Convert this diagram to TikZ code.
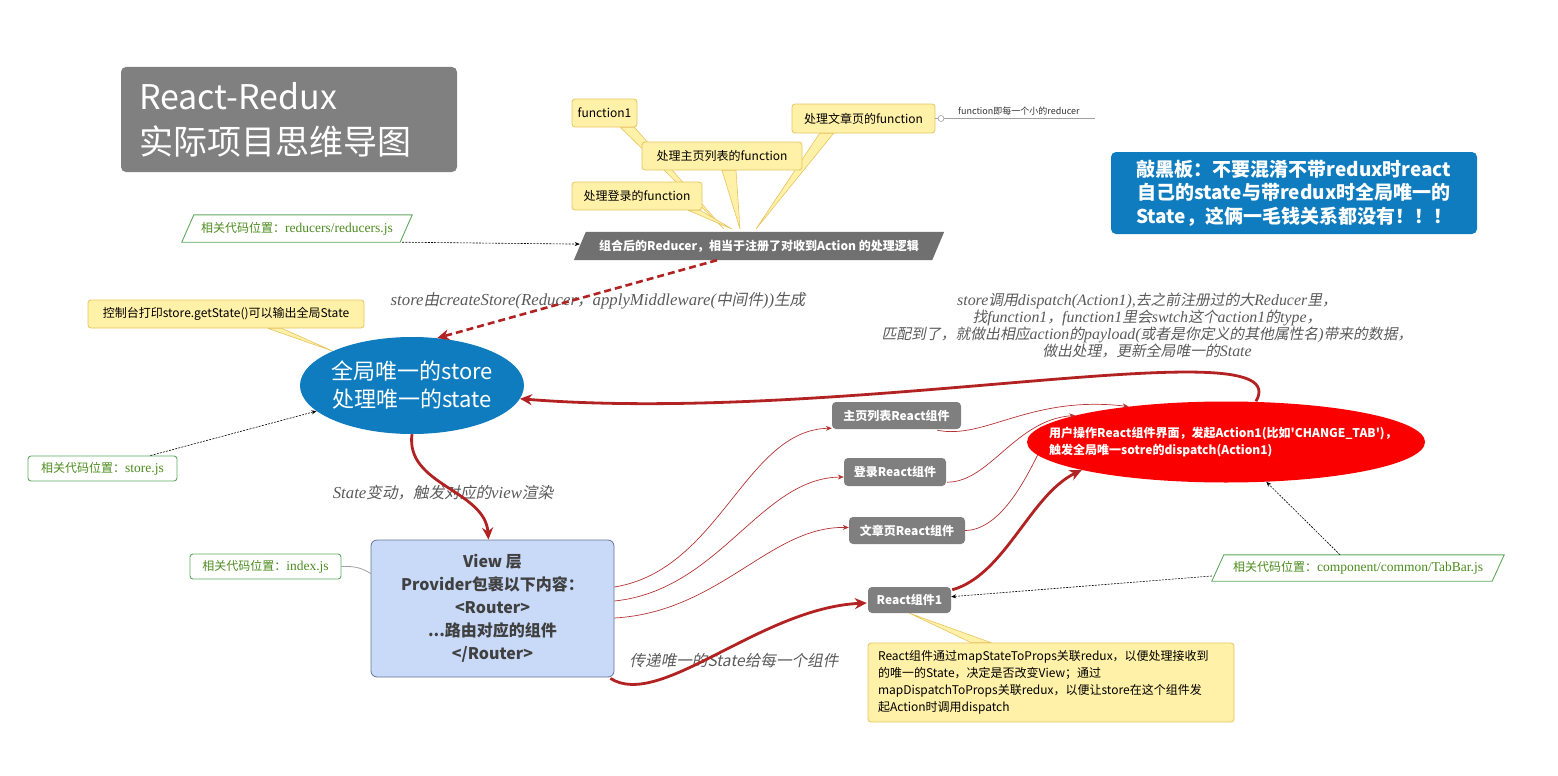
\documentclass[tikz,border=0pt]{standalone}
\usepackage{fontspec}
\setmainfont{Noto Sans CJK SC}
\newfontfamily\cjit[FakeSlant=0.2]{Noto Sans CJK SC}
\newfontfamily\latser{Liberation Serif}
\usetikzlibrary{arrows.meta,calc,shapes.geometric,backgrounds}
\definecolor{titlegray}{RGB}{128,128,128}
\definecolor{yfill}{RGB}{255,241,168}
\definecolor{ybord}{RGB}{232,196,96}
\definecolor{gbord}{RGB}{96,170,96}
\definecolor{gtext}{RGB}{76,140,30}
\definecolor{sblue}{RGB}{14,124,190}
\definecolor{compgray}{RGB}{127,127,127}
\definecolor{redgray}{RGB}{112,112,112}
\definecolor{actred}{RGB}{250,0,0}
\definecolor{dred}{RGB}{178,34,34}
\definecolor{tred}{RGB}{180,50,50}
\definecolor{viewfill}{RGB}{201,218,248}
\definecolor{viewbord}{RGB}{100,115,150}
\definecolor{viewtext}{RGB}{64,64,64}
\definecolor{itgray}{RGB}{90,90,90}
\definecolor{linegray}{RGB}{160,160,160}
\newcommand\itc[1]{{\cjit\fontsize{15.6}{18}\selectfont #1}}
\newcommand\itl[1]{{\latser\itshape\fontsize{16.8}{18}\selectfont #1}}
\newcommand\itcs[1]{{\cjit\fontsize{14.8}{17}\selectfont #1}}
\newcommand\itls[1]{{\latser\itshape\fontsize{15.9}{17}\selectfont #1}}
\newcommand\pth[1]{{\latser\fontsize{13.5}{14}\selectfont #1}}
\newcommand\sq{{\XeTeXglyph\XeTeXcharglyph"27}}
\begin{document}
\begin{tikzpicture}[x=1pt,y=-1pt,
 ybox/.style={draw=ybord, fill=yfill, rounded corners=3pt, line width=0.8pt, inner sep=0pt, font=\fontsize{12}{14}\selectfont, text=black},
 tail/.style={draw=ybord, fill=yfill, line width=0.6pt, line join=round},
 glab/.style={text=gtext, inner sep=0pt, font=\fontsize{12}{14}\selectfont},
 gbox/.style={glab, draw=gbord, fill=white, rounded corners=3pt, line width=0.9pt},
 gpar/.style={draw=gbord, fill=white, line width=0.9pt},
 comp/.style={fill=compgray, rounded corners=4pt, text=white, inner sep=0pt, font=\bfseries\fontsize{12}{14}\selectfont},
 dotarr/.style={black, line width=0.6pt, dash pattern=on 2pt off 1.2pt, -{Stealth[length=5pt,width=4pt]}},
 bigrel/.style={dred, line width=2.8pt, -{Stealth[length=12pt,width=11pt]}},
 thinrel/.style={tred, line width=0.7pt, -{Stealth[length=6pt,width=5pt]}},
 itlab/.style={text=itgray, inner sep=0pt, align=center, font=\fontsize{14}{17}\selectfont},
]
\useasboundingbox (0,0) rectangle (1558,776);

% title
\node[fill=titlegray, rounded corners=5pt, minimum width=336, minimum height=105, text width=300, inner xsep=18, inner ysep=0, align=left, text=white, font=\fontsize{34}{45}\selectfont] (title) at (289,119.5) {React-Redux\\实际项目思维导图};

% reducer callouts
\node[ybox, minimum width=65, minimum height=28] (f1) at (604.5,113) {function1};
\node[ybox, minimum width=160, minimum height=28] (fmain) at (722,156) {处理主页列表的function};
\node[ybox, minimum width=130, minimum height=28] (flogin) at (637,196) {处理登录的function};
\node[ybox, minimum width=143, minimum height=29] (fart) at (863.5,118.5) {处理文章页的function};

\node[text=white, font=\bfseries\fontsize{12}{14}\selectfont, minimum width=358, minimum height=28, inner sep=0] (reducer) at (759,246) {组合后的Reducer，相当于注册了对收到Action 的处理逻辑};

\node[circle, draw=linegray, fill=white, minimum size=6, inner sep=0, line width=0.6] (knob) at (941,118.5) {};
\coordinate (fend) at (1095,118.5);
\node[font=\fontsize{9}{10}\selectfont, text=black!80, inner sep=0, anchor=south west] (fnote) at (958,115) {function即每一个小的reducer};
\draw[linegray, line width=0.8] (fart.east) -- (knob.west);
\draw[linegray, line width=0.8] (knob.east) -- (fend);

% green labels
\node[glab, minimum width=218, minimum height=27] (rlab) at (297,228.5) {相关代码位置：\pth{reducers/reducers.js}};
\node[gbox, minimum width=149, minimum height=25] (slab) at (102.5,468.5) {相关代码位置：\pth{store.js}};
\node[gbox, minimum width=151, minimum height=25] (ilab) at (265.5,566.5) {相关代码位置：\pth{index.js}};
\node[glab, minimum width=280, minimum height=26] (tlab) at (1358,568) {相关代码位置：\pth{component/common/TabBar.js}};

% store
\node[ybox, minimum width=276, minimum height=28] (cnote) at (226,314) {控制台打印store.getState()可以输出全局State};
\node[ellipse, fill=sblue, minimum width=224, minimum height=97, inner sep=0] (store) at (412,385.5) {};
\node[text=white, align=center, font=\fontsize{22}{28}\selectfont, inner sep=0] (storetxt) at (store.center) {全局唯一的store\\处理唯一的state};

% blackboard
\node[fill=sblue, rounded corners=5pt, minimum width=366, minimum height=82, inner sep=0, text=white, align=center, font=\bfseries\fontsize{19}{23.5}\selectfont] (board) at (1294,193) {敲黑板：不要混淆不带redux时react\\自己的state与带redux时全局唯一的\\State，这俩一毛钱关系都没有！！！};

% action ellipse
\node[ellipse, fill=actred, minimum width=398, minimum height=81, inner sep=0] (act) at (1226,442) {};
\node[text=white, align=left, font=\bfseries\fontsize{12}{17}\selectfont, inner sep=0] (acttxt) at (1223,442.5) {用户操作React组件界面，发起Action1(比如\sq CHANGE\_TAB\sq)，\\触发全局唯一sotre的dispatch(Action1)};

% components
\node[comp, minimum width=129, minimum height=27] (home) at (896.5,415.5) {主页列表React组件};
\node[comp, minimum width=102, minimum height=28] (login) at (895,472) {登录React组件};
\node[comp, minimum width=116, minimum height=27] (article) at (907,530.5) {文章页React组件};
\node[comp, minimum width=83, minimum height=26] (comp1) at (909.5,600) {React组件1};

% view
\node[fill=viewfill, draw=viewbord, line width=0.8pt, rounded corners=6pt, minimum width=243, minimum height=137, inner sep=0, align=center, text=viewtext, font=\bfseries\fontsize{16}{23}\selectfont] (view) at (492.5,608.5) {View 层\\Provider包裹以下内容：\\<Router>\\...路由对应的组件\\</Router>};

% comp1 note
\node[ybox, minimum height=79, text width=346, inner xsep=10, inner ysep=0, align=left, font=\fontsize{12}{17}\selectfont] (cnote2) at (1051,682.5) {React组件通过mapStateToProps关联redux，以便处理接收到\\的唯一的State，决定是否改变View；通过\\mapDispatchToProps关联redux，以便让store在这个组件发\\起Action时调用dispatch};

% italic labels
\node[itlab] (lcreate) at (598,301) {\itl{store}\itc{由}\itl{createStore(Reducer}\itc{，}\itl{applyMiddleware(}\itc{中间件}\itl{))}\itc{生成}};
\node[itlab] (ldispatch) at (1147,325.5) {\itls{store}\itcs{调用}\itls{dispatch(Action1),}\itcs{去之前注册过的大}\itls{Reducer}\itcs{里，}\\
\itcs{找}\itls{function1}\itcs{，}\itls{function1}\itcs{里会}\itls{swtch}\itcs{这个}\itls{action1}\itcs{的}\itls{type}\itcs{，}\\
\itcs{匹配到了，就做出相应}\itls{action}\itcs{的}\itls{payload(}\itcs{或者是你定义的其他属性名}\itls{)}\itcs{带来的数据，}\\
\itcs{做出处理，更新全局唯一的}\itls{State}};
\node[itlab] (lrender) at (443,493) {\itl{State}\itc{变动，触发对应的}\itl{view}\itc{渲染}};
\node[itlab] (lpass) at (734,661) {\itc{传递唯一的State给每一个组件}};

% background shapes
\begin{scope}[on background layer]
\fill[redgray] ([shift={(-6,0)}]reducer.south west) -- ([shift={(6,0)}]reducer.north west) -- ([shift={(6,0)}]reducer.north east) -- ([shift={(-6,0)}]reducer.south east) -- cycle;
\draw[gpar] ([shift={(-6,0)}]rlab.south west) -- ([shift={(6,0)}]rlab.north west) -- ([shift={(6,0)}]rlab.north east) -- ([shift={(-6,0)}]rlab.south east) -- cycle;
\draw[gpar] ([shift={(-6,0)}]tlab.south west) -- ([shift={(6,0)}]tlab.north west) -- ([shift={(6,0)}]tlab.north east) -- ([shift={(-6,0)}]tlab.south east) -- cycle;
\filldraw[tail] ([shift={(16,0)}]f1.south) -- (724,229) -- ([shift={(30,0)}]f1.south) -- cycle;
\filldraw[tail] ([shift={(0,0)}]fmain.south) -- (740,229) -- ([shift={(14,0)}]fmain.south) -- cycle;
\filldraw[tail] ([shift={(-14,0)}]flogin.south east) -- (732,229) -- ([shift={(-2,0)}]flogin.south east) -- cycle;
\filldraw[tail] ([shift={(-44,0)}]fart.south) -- (756,229) -- ([shift={(-30,0)}]fart.south) -- cycle;
\filldraw[tail] ([shift={(42,0)}]cnote.south) -- (store.north west) -- ([shift={(56,0)}]cnote.south) -- cycle;
\filldraw[tail] ([shift={(-80,0)}]cnote2.north) -- (comp1.south) -- ([shift={(-60,0)}]cnote2.north) -- cycle;
\draw[linegray, line width=0.8] (ilab.east) .. controls (355,566) and (362,568) .. ([shift={(0,-35)}]view.west);
\end{scope}

% dotted arrows
\draw[dotarr] ([shift={(-4,0)}]rlab.south east) -- (reducer);
\draw[dotarr] ([shift={(48,0)}]slab.north) -- (store);
\draw[dotarr] ([shift={(-18,0)}]tlab.north) -- (act);
\draw[dotarr] ([shift={(-6,8)}]tlab.west) -- (comp1);

% red dashed
\draw[dred, line width=2.6pt, dash pattern=on 7pt off 4pt, -{Stealth[length=12pt,width=11pt]}] ([shift={(-42,0)}]reducer.south) -- (store.62);

% thin relations
\draw[thinrel] ([shift={(0,-21.5)}]view.east) .. controls (720,570) and (745,430) .. ([shift={(0,-1)}]home.south west);
\draw[thinrel] ([shift={(0,-7.5)}]view.east) .. controls (720,590) and (760,478) .. ([shift={(0,5)}]login.west);
\draw[thinrel] ([shift={(0,9.5)}]view.east) .. controls (720,612) and (770,526) .. ([shift={(0,-3)}]article.west);
\draw[thinrel] ([shift={(-24,1)}]home.south east) .. controls (985,440) and (1030,395) .. (act.160);
\draw[thinrel] ([shift={(1,-4)}]login.south east) .. controls (990,482) and (1015,420) .. (act.170);
\draw[tred, line width=0.7pt] (article.east) .. controls (1000,530) and (1025,480) .. (act.184);

% thick relations
\draw[bigrel] ([shift={(30,0)}]act.north) .. controls (1300,325) and (850,425) .. (store.-7);
\draw[bigrel] (store.south) .. controls (405,485) and (485,490) .. ([shift={(-4,0)}]view.north);
\draw[bigrel] ([shift={(-4,1)}]view.south east) .. controls (660,710) and (760,608) .. ([shift={(-1,3)}]comp1.west);
\draw[bigrel] ([shift={(1,3)}]comp1.north east) .. controls (1005,575) and (1030,495) .. (act.-169);
\end{tikzpicture}
\end{document}
